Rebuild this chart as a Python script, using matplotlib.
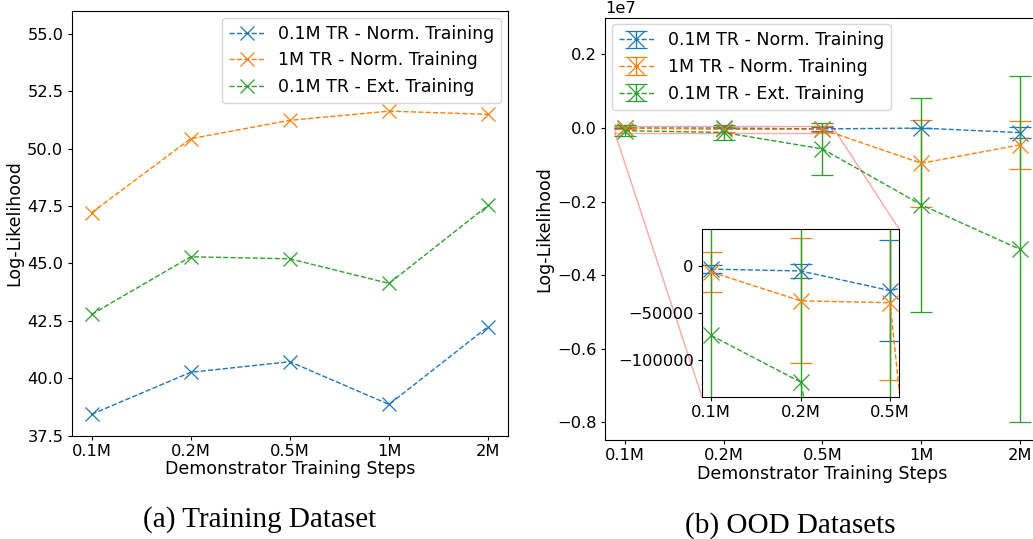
import matplotlib
matplotlib.use("Agg")
import matplotlib.pyplot as plt
from mpl_toolkits.axes_grid1.inset_locator import mark_inset

steps = ['0.1M', '0.2M', '0.5M', '1M', '2M']
labels = ['0.1M TR - Norm. Training', '1M TR - Norm. Training', '0.1M TR - Ext. Training']

# (a) training dataset log-likelihood
train_01_norm = [38.43, 40.26, 40.72, 38.86, 42.25]
train_1_norm = [47.21, 50.43, 51.23, 51.63, 51.49]
train_01_ext = [42.78, 45.29, 45.20, 44.13, 47.53]

# (b) OOD datasets log-likelihood (mean, error)
ood_01_norm = [-3000, -5000, -26000, -5000, -128000]
ood_01_norm_err = [4500, 8000, 54000, 10000, 150000]
ood_1_norm = [-6000, -37000, -39000, -960000, -460000]
ood_1_norm_err = [21000, 67000, 83000, 1180000, 650000]
ood_01_ext = [-74000, -124000, -570000, -2090000, -3300000]
ood_01_ext_err = [150000, 200000, 700000, 2900000, 4700000]

colors = ['tab:blue', 'tab:orange', 'tab:green']
fs = 12.5   # labels / legend
tfs = 11.7  # tick labels

fig = plt.figure(figsize=(10.33, 5.39), dpi=100)

# left panel
ax1 = fig.add_axes([0.0694, 0.1917, 0.4224, 0.7883])
x = list(range(len(steps)))
for ys, c, lab in zip([train_01_norm, train_1_norm, train_01_ext], colors, labels):
    ax1.plot(x, ys, '--', marker='x', color=c, markersize=10, linewidth=1,
             markeredgewidth=0.9, label=lab)
ax1.set_ylim(37.5, 56)
ax1.set_xticks(x)
ax1.set_xticklabels(steps)
ax1.tick_params(labelsize=tfs, length=3, pad=3)
ax1.set_xlabel('Demonstrator Training Steps', fontsize=fs, labelpad=1)
ax1.set_ylabel('Log-Likelihood', fontsize=fs, labelpad=3)
ax1.legend(loc='upper right', fontsize=fs, borderaxespad=0.4)

# right panel
ax2 = fig.add_axes([0.5857, 0.1837, 0.421, 0.7838])
series = [(ood_01_norm, ood_01_norm_err), (ood_1_norm, ood_1_norm_err), (ood_01_ext, ood_01_ext_err)]
for (ys, err), c, lab in zip(series, colors, labels):
    ax2.errorbar(x, ys, yerr=err, fmt='--', marker='x', color=c, markersize=11,
                 linewidth=1, markeredgewidth=0.9, capsize=8, label=lab)
ax2.set_ylim(-8.48e6, 3.0e6)
ax2.ticklabel_format(axis='y', style='sci', scilimits=(7, 7))
ax2.set_xticks(x)
ax2.set_xticklabels(steps)
ax2.tick_params(labelsize=tfs, length=3, pad=3)
ax2.yaxis.get_offset_text().set_fontsize(tfs)
ax2.set_xlabel('Demonstrator Training Steps', fontsize=fs, labelpad=1)
ax2.set_ylabel('Log-Likelihood', fontsize=fs, labelpad=3)
ax2.legend(loc='upper left', fontsize=fs, borderaxespad=0.4)

# inset zoom on the first three steps
axins = fig.add_axes([0.6796, 0.2635, 0.1907, 0.3117])
for (ys, err), c in zip(series, colors):
    axins.errorbar(x, ys, yerr=err, fmt='--', marker='x', color=c, markersize=11,
                   linewidth=1, markeredgewidth=0.9, capsize=8)
axins.set_xlim(-0.1, 2.1)
axins.set_ylim(-140000, 40000)
axins.set_xticks([0, 1, 2])
axins.set_xticklabels(steps[:3])
axins.set_yticks([0, -50000, -100000])
axins.tick_params(labelsize=tfs, length=3, pad=3)
mark_inset(ax2, axins, loc1=1, loc2=3, fc='none', ec='red', alpha=0.35)

fig.text(0.251, 0.022, '(a) Training Dataset', family='Liberation Serif', fontsize=21, ha='center')
fig.text(0.765, 0.012, '(b) OOD Datasets', family='Liberation Serif', fontsize=21, ha='center')

fig.savefig('out.png', dpi=100)
